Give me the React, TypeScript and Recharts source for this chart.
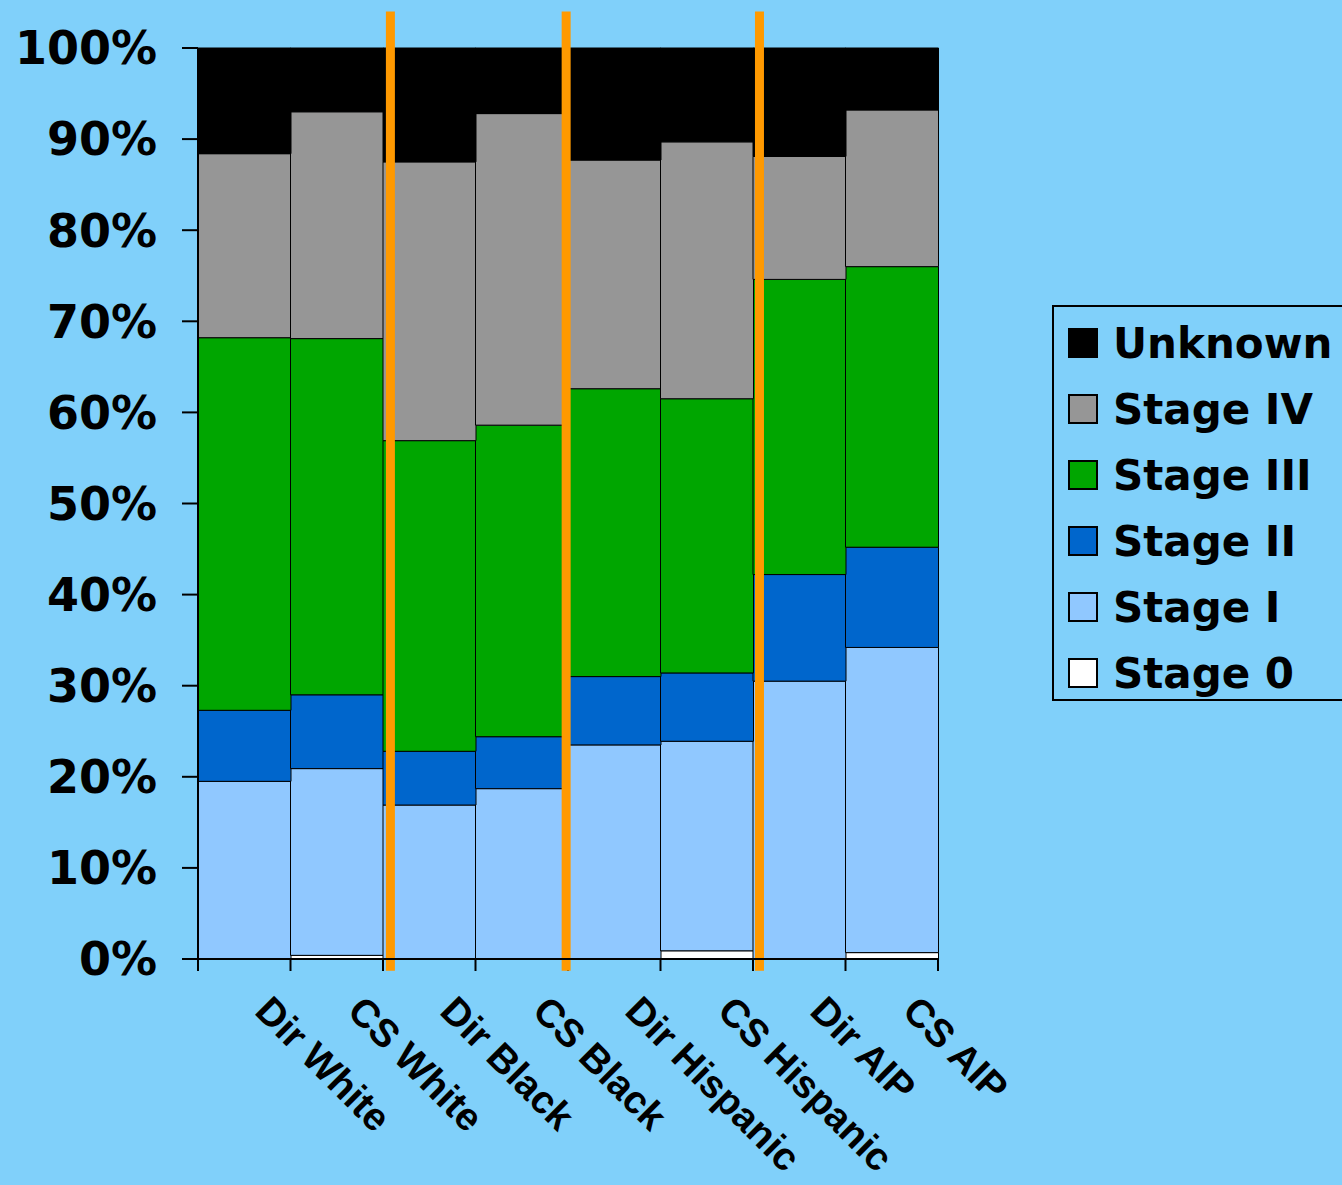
import { Bar, BarChart, Legend, ReferenceLine, XAxis, YAxis } from "recharts";

const categories = ["Dir White", "CS White", "Dir Black", "CS Black", "Dir Hispanic", "CS Hispanic", "Dir AIP", "CS AIP"];
const stage0 = [0, 0.4, 0, 0, 0, 0.9, 0, 0.7];
const stage1 = [19.5, 20.5, 16.9, 18.7, 23.5, 23.0, 30.5, 33.5];
const stage2 = [7.8, 8.1, 5.9, 5.7, 7.5, 7.5, 11.7, 11.0];
const stage3 = [40.9, 39.1, 34.1, 34.2, 31.6, 30.1, 32.4, 30.8];
const stage4 = [20.2, 24.9, 30.6, 34.2, 25.1, 28.2, 13.5, 17.2];
const unknown = [11.6, 7.0, 12.5, 7.2, 12.3, 10.3, 11.9, 6.8];
const yTicks = [0, 10, 20, 30, 40, 50, 60, 70, 80, 90, 100];
const boundaryTicks = [0, 1, 2, 3, 4, 5, 6, 7, 8];
// orange group separators, in bar units
const separators = [2.08, 3.98, 6.07];

const BG = "#80D0FA";

const data = categories.map((name, i) => ({
  name,
  slot: i,
  stage0: stage0[i],
  stage1: stage1[i],
  stage2: stage2[i],
  stage3: stage3[i],
  stage4: stage4[i],
  unknown: unknown[i],
}));

function AngledTick({ x, y, payload }: any) {
  return (
    <g transform={`translate(${x + 9},${y + 54}) rotate(45)`}>
      <text x={0} y={0} textAnchor="start" fontFamily="Liberation Sans" fontWeight={700} fontSize={39} fill="#000">
        {payload.value}
      </text>
    </g>
  );
}

function LegendBox({ payload }: any) {
  const items = [...(payload ?? [])].reverse();
  return (
    <div
      style={{
        border: "2px solid #000",
        background: BG,
        padding: "3px 0 0 14px",
        width: 320,
        height: 396,
        boxSizing: "border-box",
      }}
    >
      {items.map((e: any) => (
        <div key={e.value} style={{ display: "flex", alignItems: "center", height: 66 }}>
          <span
            style={{
              width: 30,
              height: 30,
              background: e.color,
              border: "2px solid #000",
              boxSizing: "border-box",
              marginRight: 15,
              flex: "none",
            }}
          />
          <span style={{ fontFamily: "DejaVu Sans", fontWeight: 700, fontSize: 42, color: "#000", whiteSpace: "nowrap" }}>
            {e.value}
          </span>
        </div>
      ))}
    </div>
  );
}

export default function App() {
  return (
    <div style={{ position: "absolute", left: 0, top: 0, width: 1342, height: 1185, background: BG, overflow: "hidden" }}>
      <BarChart
        width={1342}
        height={1185}
        data={data}
        barCategoryGap={0}
        margin={{ top: 48, right: 404, bottom: 0, left: 0 }}
      >
        <XAxis
          xAxisId="cat"
          dataKey="name"
          height={226}
          axisLine={{ stroke: "#000", strokeWidth: 2 }}
          tickLine={false}
          tickSize={0}
          tickMargin={0}
          interval={0}
          tick={<AngledTick />}
        />
        {/* hidden linear axis over the same width, used for boundary ticks and separators */}
        <XAxis xAxisId="num" dataKey="slot" type="number" domain={[0, 8]} allowDataOverflow hide />
        <YAxis
          domain={[0, 100]}
          ticks={yTicks}
          width={198}
          tickSize={16}
          tickMargin={25}
          tickFormatter={(v) => `${v}%`}
          axisLine={{ stroke: "#000", strokeWidth: 2 }}
          tickLine={{ stroke: "#000", strokeWidth: 2 }}
          tick={{ fontFamily: "DejaVu Sans", fontWeight: 700, fontSize: 46, fill: "#000" }}
        />
        <Bar xAxisId="cat" dataKey="stage0" name="Stage 0" stackId="a" fill="#FFFFFF" stroke="#000" strokeWidth={1} isAnimationActive={false} />
        <Bar xAxisId="cat" dataKey="stage1" name="Stage I" stackId="a" fill="#90C8FF" stroke="#000" strokeWidth={1} isAnimationActive={false} />
        <Bar xAxisId="cat" dataKey="stage2" name="Stage II" stackId="a" fill="#0066CC" stroke="#000" strokeWidth={1} isAnimationActive={false} />
        <Bar xAxisId="cat" dataKey="stage3" name="Stage III" stackId="a" fill="#00A600" stroke="#000" strokeWidth={1} isAnimationActive={false} />
        <Bar xAxisId="cat" dataKey="stage4" name="Stage IV" stackId="a" fill="#969696" stroke="#000" strokeWidth={1} isAnimationActive={false} />
        <Bar xAxisId="cat" dataKey="unknown" name="Unknown" stackId="a" fill="#000000" stroke="#000" strokeWidth={1} isAnimationActive={false} />
        {boundaryTicks.map((x) => (
          <ReferenceLine
            key={`t${x}`}
            xAxisId="num"
            segment={[{ x, y: 0 }, { x, y: -1.32 }]}
            stroke="#000"
            strokeWidth={2}
            ifOverflow="visible"
          />
        ))}
        {separators.map((x) => (
          <ReferenceLine
            key={x}
            xAxisId="num"
            segment={[{ x, y: -1.3 }, { x, y: 104 }]}
            stroke="#FF9900"
            strokeWidth={9}
            ifOverflow="visible"
          />
        ))}
        <Legend
          layout="vertical"
          align="center"
          verticalAlign="middle"
          wrapperStyle={{ left: 1052, top: 305, width: 320 }}
          content={<LegendBox />}
        />
      </BarChart>
    </div>
  );
}
